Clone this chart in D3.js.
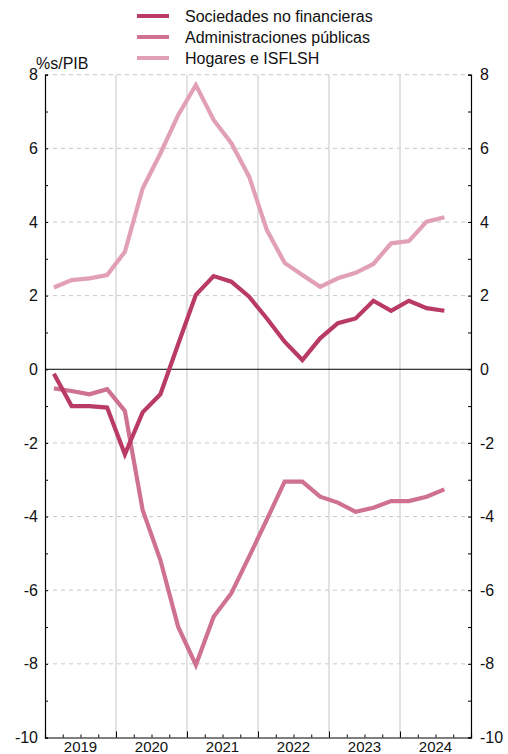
<!DOCTYPE html>
<html><head><meta charset="utf-8">
<script src="https://cdn.jsdelivr.net/npm/d3@7"></script>
<style>body{margin:0;background:#fff}svg{display:block;font-family:"Liberation Sans",Arial,sans-serif}</style>
</head><body><svg id="c" width="508" height="754"></svg>
<script>
const years = ["2019","2020","2021","2022","2023","2024"];
const seriesNames = ["Sociedades no financieras","Administraciones públicas","Hogares e ISFLSH"];
const colors = ["#b93b64","#cf7190","#e2a0b5"];
const sociedades = [-0.12,-1.0,-1.0,-1.04,-2.31,-1.17,-0.68,0.68,2.02,2.53,2.38,1.97,1.38,0.75,0.25,0.84,1.25,1.38,1.86,1.59,1.86,1.66,1.59];
const administraciones = [-0.52,-0.59,-0.68,-0.54,-1.13,-3.82,-5.18,-6.99,-8.03,-6.72,-6.08,-5.09,-4.08,-3.05,-3.05,-3.46,-3.62,-3.87,-3.76,-3.58,-3.58,-3.46,-3.26];
const hogares = [2.22,2.42,2.47,2.56,3.19,4.91,5.86,6.9,7.72,6.77,6.14,5.23,3.78,2.89,2.56,2.24,2.47,2.62,2.86,3.42,3.48,4.01,4.13];
const yTicks = [8,6,4,2,0,-2,-4,-6,-8,-10];
const unit = "%s/PIB";

const svg = d3.select("#c");
const L = 45, R = 471, T = 74.7, B = 737.5;
const x = d3.scaleLinear().domain([0,24]).range([L,R]);
const y = d3.scaleLinear().domain([-10,8]).range([B,T]);

// horizontal dashed grid
svg.append("g").selectAll("line").data(yTicks.filter(v=>v!==0&&v!==-10)).join("line")
  .attr("x1",L).attr("x2",R).attr("y1",d=>y(d)).attr("y2",d=>y(d))
  .attr("stroke","#c8c8c8").attr("stroke-width",1).attr("stroke-dasharray","4,4");
// vertical year grid
svg.append("g").selectAll("line").data(d3.range(1,6)).join("line")
  .attr("x1",d=>x(d*4)).attr("x2",d=>x(d*4)).attr("y1",T).attr("y2",B)
  .attr("stroke","#cfcfcf").attr("stroke-width",1.2);
// zero line
svg.append("line").attr("x1",L).attr("x2",R).attr("y1",y(0)).attr("y2",y(0)).attr("stroke","#000").attr("stroke-width",1);

// axes
const minorY = d3.range(-10,9,1);
const gl = svg.append("g").attr("transform",`translate(${L},0)`)
  .call(d3.axisRight(y).tickValues(minorY).tickSize(3).tickFormat(""));
const gr = svg.append("g").attr("transform",`translate(${R},0)`)
  .call(d3.axisLeft(y).tickValues(minorY).tickSize(3).tickFormat(""));
[gl,gr].forEach(g=>{g.select(".domain").attr("stroke","#000").attr("stroke-width",1.2);g.selectAll(".tick line").attr("stroke","#000");});
// labels
svg.append("g").selectAll("text").data(yTicks).join("text")
  .attr("x",L-7).attr("y",d=>y(d)).attr("dy","0.35em").attr("text-anchor","end")
  .attr("font-size",16).attr("fill","#111").text(d=>d);
svg.append("g").selectAll("text").data(yTicks).join("text")
  .attr("x",R+9).attr("y",d=>y(d)).attr("dy","0.35em").attr("text-anchor","start")
  .attr("font-size",16).attr("fill","#111").text(d=>d);
svg.append("text").attr("x",36).attr("y",69).attr("font-size",16).attr("fill","#111").text(unit);

// bottom axis
const gb = svg.append("g").attr("transform",`translate(0,${B})`)
  .call(d3.axisTop(x).tickValues(d3.range(0,25)).tickSize(3).tickFormat(""));
gb.select(".domain").attr("stroke","#000").attr("stroke-width",1.2);
gb.selectAll(".tick line").attr("stroke","#000").attr("y2",d=>d%4===0?-6:-3);
svg.append("g").selectAll("text").data(years).join("text")
  .attr("x",(d,i)=>x(i*4+2)).attr("y",752).attr("text-anchor","middle")
  .attr("font-size",15).attr("fill","#111").text(d=>d);

// lines
const line = d3.line().x((d,i)=>x(i+0.5)).y(d=>y(d));
const data = [sociedades,administraciones,hogares];
[2,1,0].forEach(k=>{
  svg.append("path").datum(data[k]).attr("d",line).attr("fill","none")
    .attr("stroke",colors[k]).attr("stroke-width",4.2).attr("stroke-linejoin","miter");
});

// legend
const lg = svg.append("g");
seriesNames.forEach((n,i)=>{
  const yy = 16 + i*21;
  lg.append("line").attr("x1",137).attr("x2",169).attr("y1",yy).attr("y2",yy).attr("stroke",colors[i]).attr("stroke-width",4);
  lg.append("text").attr("x",185).attr("y",yy).attr("dy","0.35em").attr("font-size",16).attr("fill","#111").text(n);
});
</script></body></html>
